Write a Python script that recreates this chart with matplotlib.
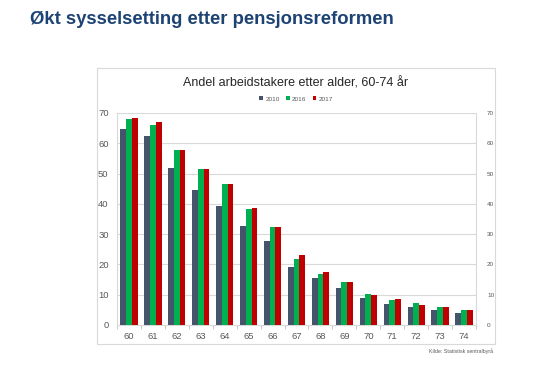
import matplotlib.pyplot as plt
import numpy as np
from matplotlib.patches import Rectangle

# Andel arbeidstakere etter alder (prosent)
ages = [str(a) for a in range(60, 75)]
years = ['2010', '2016', '2017']
v2010 = [64.7, 62.5, 52.0, 44.6, 39.4, 32.7, 27.6, 19.0, 15.4, 12.1, 9.0, 6.9, 6.0, 4.8, 3.9]
v2016 = [68.0, 66.1, 57.7, 51.5, 46.4, 38.3, 32.4, 21.8, 16.8, 14.2, 10.4, 8.2, 7.1, 6.0, 5.0]
v2017 = [68.2, 66.9, 57.7, 51.5, 46.4, 38.5, 32.5, 23.1, 17.5, 14.2, 9.9, 8.7, 6.7, 6.0, 5.0]
colors = ['#44546A', '#00B050', '#C00000']

plt.rcParams['font.family'] = ['Liberation Sans', 'DejaVu Sans']

fig = plt.figure(figsize=(5.6, 3.84), dpi=100)
fig.patch.set_facecolor('white')

# slide title
fig.text(30 / 560, 1 - 20 / 384, 'Økt sysselsetting etter pensjonsreformen',
         fontsize=13.3, fontweight='bold', color='#1C4373', va='center', ha='left')

# chart frame
fig.patches.append(Rectangle((97 / 560, 1 - 344 / 384), 398 / 560, 276 / 384,
                             transform=fig.transFigure, fill=False,
                             edgecolor='#D9D9D9', linewidth=0.8))

ax = fig.add_axes([117 / 560, 1 - 325 / 384, 359 / 560, 212 / 384])

x = np.arange(len(ages))
w = 0.24
for i, (vals, yr) in enumerate(zip([v2010, v2016, v2017], years)):
    ax.bar(x + (i - 1) * w, vals, width=w, color=colors[i], label=yr, zorder=3)

ax.set_xlim(-0.5, len(ages) - 0.5)
ax.set_ylim(0, 70)
ax.set_yticks(range(0, 71, 10))
ax.grid(True, axis='y', color='#D9D9D9', linewidth=0.8, zorder=0)
ax.set_xticks(x)
ax.set_xticklabels(ages)
ax.set_xticks(np.arange(-0.5, len(ages), 1), minor=True)
ax.tick_params(axis='x', which='major', length=0, labelsize=6.8, colors='#595959', pad=5)
ax.tick_params(axis='x', which='minor', length=3, color='#BFBFBF')
ax.tick_params(axis='y', length=0, labelsize=6.8, colors='#595959', pad=6)
ax.spines['top'].set_visible(False)
for s in ['left', 'right', 'bottom']:
    ax.spines[s].set_color('#D9D9D9')
    ax.spines[s].set_linewidth(0.8)

ax2 = ax.twinx()
ax2.set_ylim(0, 70)
ax2.set_yticks(range(0, 71, 10))
ax2.tick_params(axis='y', length=0, labelsize=4.6, colors='#595959', pad=8)
for s in ['top', 'left', 'bottom', 'right']:
    ax2.spines[s].set_visible(False)

fig.text(296 / 560, 1 - 83 / 384, 'Andel arbeidstakere etter alder, 60-74 år',
         fontsize=9.0, color='#262626', ha='center', va='center')

fig.legend(loc='center', bbox_to_anchor=(296 / 560, 1 - 99 / 384), ncol=3,
           frameon=False, fontsize=4.6, handlelength=0.6, handleheight=0.6,
           handletextpad=0.3, columnspacing=1.0, labelcolor='#595959')

fig.text(493 / 560, 1 - 351 / 384, 'Kilde: Statistisk sentralbyrå',
         fontsize=3.8, color='#595959', ha='right', va='center')

fig.savefig('out.png', dpi=100)
